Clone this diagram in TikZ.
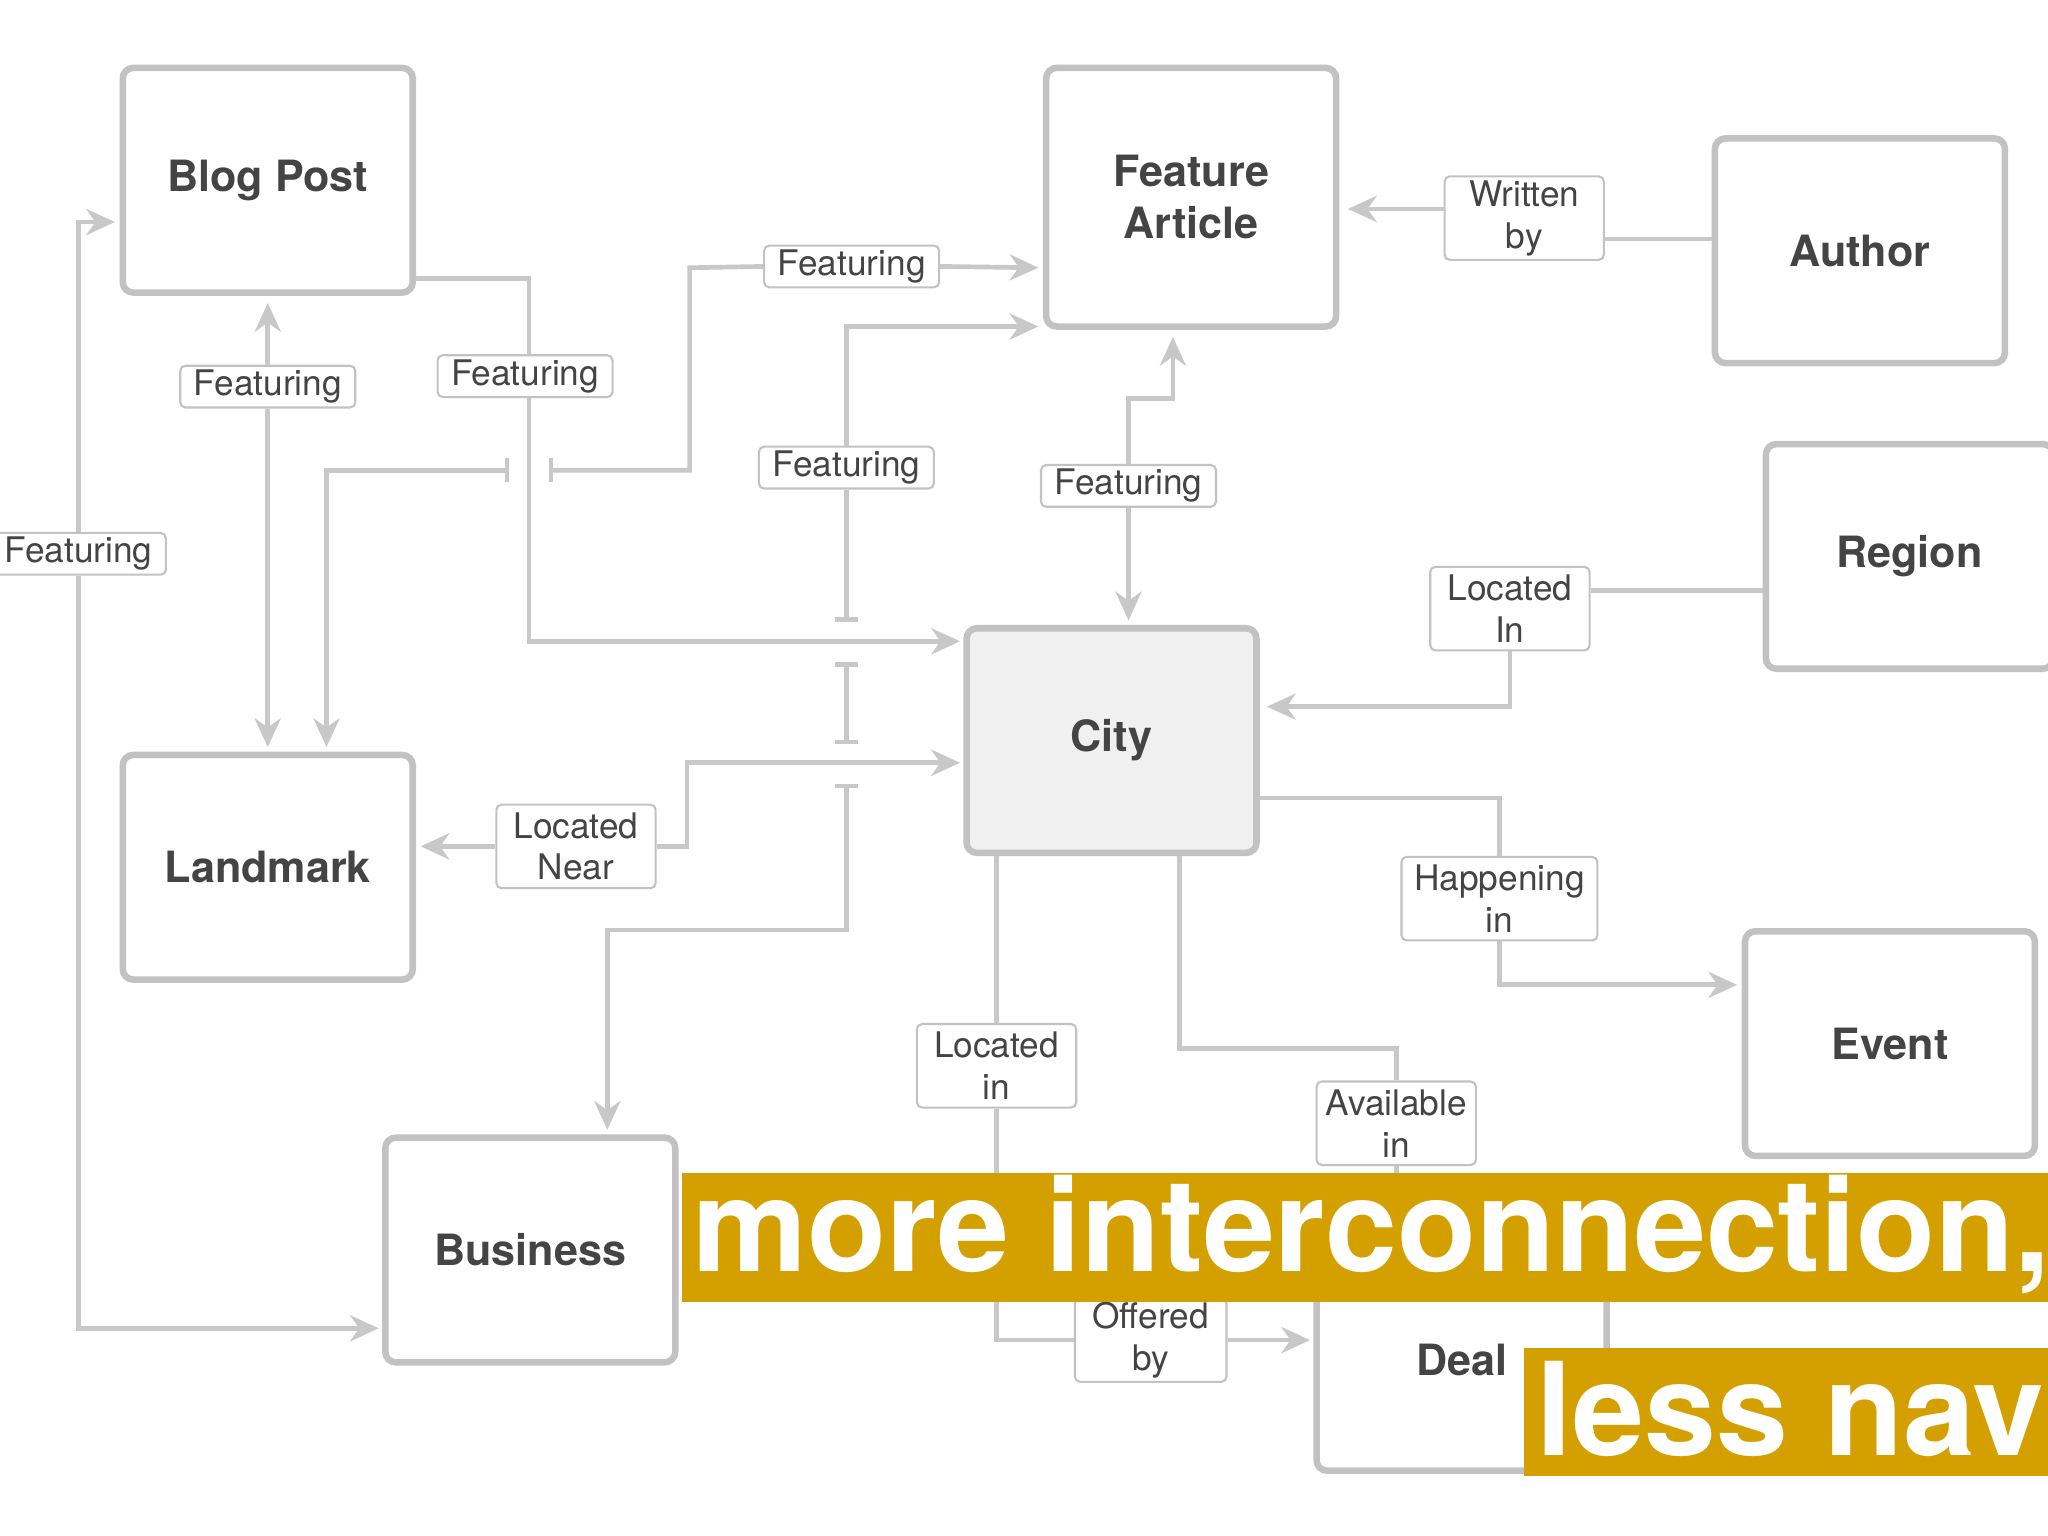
\documentclass[tikz,border=0pt]{standalone}
\usepackage{fontspec}
\setmainfont{TeX Gyre Heros}
\usetikzlibrary{arrows.meta,calc}
\definecolor{ln}{HTML}{C8C8C8}
\definecolor{bx}{HTML}{C2C2C2}
\definecolor{gold}{HTML}{D4A000}
\definecolor{tx}{HTML}{444444}
\begin{document}
\begin{tikzpicture}[x=0.5pt,y=-0.5pt,
 ent/.style={draw=bx,line width=2.5pt,rounded corners=4pt,minimum width=111pt,minimum height=86pt,font=\fontsize{16.5}{20}\selectfont\bfseries,text=tx,align=center,fill=white},
 lab/.style={draw=bx,line width=0.8pt,rounded corners=2pt,fill=white,font=\fontsize{13.5}{16}\selectfont,text=tx,align=center,inner sep=1pt,minimum height=16pt},
 lab2/.style={lab,minimum height=32pt},
 con/.style={draw=ln,line width=1.8pt},
 arr/.style={con,-{Stealth[length=11pt,width=10pt,inset=3.5pt]}},
 bigtxt/.style={text=white,font=\fontsize{49.5}{51}\selectfont\bfseries,anchor=west,inner sep=0pt}
]
\useasboundingbox (0,0) rectangle (1568,1176);
\clip (0,0) rectangle (1568,1176);
\fill[white] (0,0) rectangle (1568,1176);
% entities
\node[ent] (bp) at (205,138) {Blog Post};
\node[ent,minimum height=99pt] (fa) at (912,151) {Feature\\Article};
\node[ent] (au) at (1424,192) {Author};
\node[ent,minimum width=110pt] (rg) at (1462,426) {Region};
\node[ent,fill=black!6] (ct) at (851,567) {City};
\node[ent] (lm) at (205,664) {Landmark};
\node[ent] (ev) at (1447,799) {Event};
\node[ent] (bu) at (406,957) {Business};
\node[ent,minimum height=73pt] (dl) at (1119,1053) {\raisebox{12pt}{Deal}};
% labels
\node[lab2,minimum width=61pt] (wb) at (1167,167) {Written\\by};
\node[lab,minimum width=67pt] (f1) at (652,204) {Featuring};
\node[lab,minimum width=67pt] (f2) at (205,296) {Featuring};
\node[lab,minimum width=67pt] (f3) at (402,288) {Featuring};
\node[lab,minimum width=67pt] (f4) at (648,358) {Featuring};
\node[lab,minimum width=67pt] (f5) at (864,372) {Featuring};
\node[lab,minimum width=67pt] (f6) at (60,424) {Featuring};
\node[lab2,minimum width=61pt] (li) at (1156,466) {Located\\In};
\node[lab2,minimum width=61pt] (lnr) at (441,648) {Located\\Near};
\node[lab2,minimum width=75pt] (hi) at (1148,688) {Happening\\in};
\node[lab2,minimum width=61pt] (lc) at (763,816) {Located\\in};
\node[lab2,minimum width=61pt] (av) at (1069,860) {Available\\in};
\node[lab2,minimum width=58pt] (ob) at (881,1026) {Offered\\by};
% connectors
\draw[con] (au.west |- 0,183) -- (wb.east |- 0,183);
\draw[arr] (wb.west |- 0,160) -- (1032,160);
\draw[con,{Stealth[length=11pt,width=10pt,inset=3.5pt]}-{Bar[width=9pt]}] (250,572) -- (250,360) -- (390,360);
\draw[con,{Bar[width=9pt]}-] (420,360) -- (528,360) -- (528,205) -- (f1.west);
\draw[arr] (f1.east) -- (795,205);
\draw[arr] (f2.north) -- (205,232);
\draw[arr] (f2.south) -- (205,572);
\draw[con] (bp.east |- 0,213) -- (405,213) -- (405,272);
\draw[arr] (405,305) -- (405,491) -- (735,491);
\draw[arr] (f4.north) -- (648,250) -- (795,250);
\draw[con,-{Bar[width=9pt]}] (f4.south) -- (648,476);
\draw[con,{Bar[width=9pt]}-{Bar[width=9pt]}] (648,507) -- (648,570);
\draw[con,{Bar[width=9pt]}-{Stealth[length=11pt,width=10pt,inset=3.5pt]}] (648,600) -- (648,712) -- (465,712) -- (465,865);
\draw[arr] (f5.north) -- (864,305) -- (898,305) -- (898,258);
\draw[arr] (f5.south) -- (864,475);
\draw[arr] (f6.north) -- (60,170) -- (88,170);
\draw[arr] (f6.south) -- (60,1017) -- (290,1017);
\draw[con] (rg.west |- 0,452) -- (li.east |- 0,452);
\draw[arr] (li.south) -- (1156,541) -- (970,541);
\draw[arr] (lnr.east) -- (526,648) -- (526,584) -- (735,584);
\draw[arr] (lnr.west) -- (322,648);
\draw[con] (ct.east |- 0,611) -- (1148,611) -- (hi.north);
\draw[arr] (hi.south) -- (1148,754) -- (1330,754);
\draw[con] (763,655) -- (lc.north);
\draw[con] (lc.south) -- (763,1026) -- (ob.west);
\draw[arr] (ob.east) -- (1003,1026);
\draw[con] (903,655) -- (903,803) -- (1069,803) -- (av.north);
\draw[con] (av.south) -- (1069,910);
% banners
\fill[gold] (522,898) rectangle (1568,997);
\node[bigtxt] (b1) at (530,945) {more interconnection,};
\fill[gold] (1167,1032) rectangle (1568,1130);
\node[bigtxt] (b2) at (1176,1079) {less nav};
\end{tikzpicture}
\end{document}
